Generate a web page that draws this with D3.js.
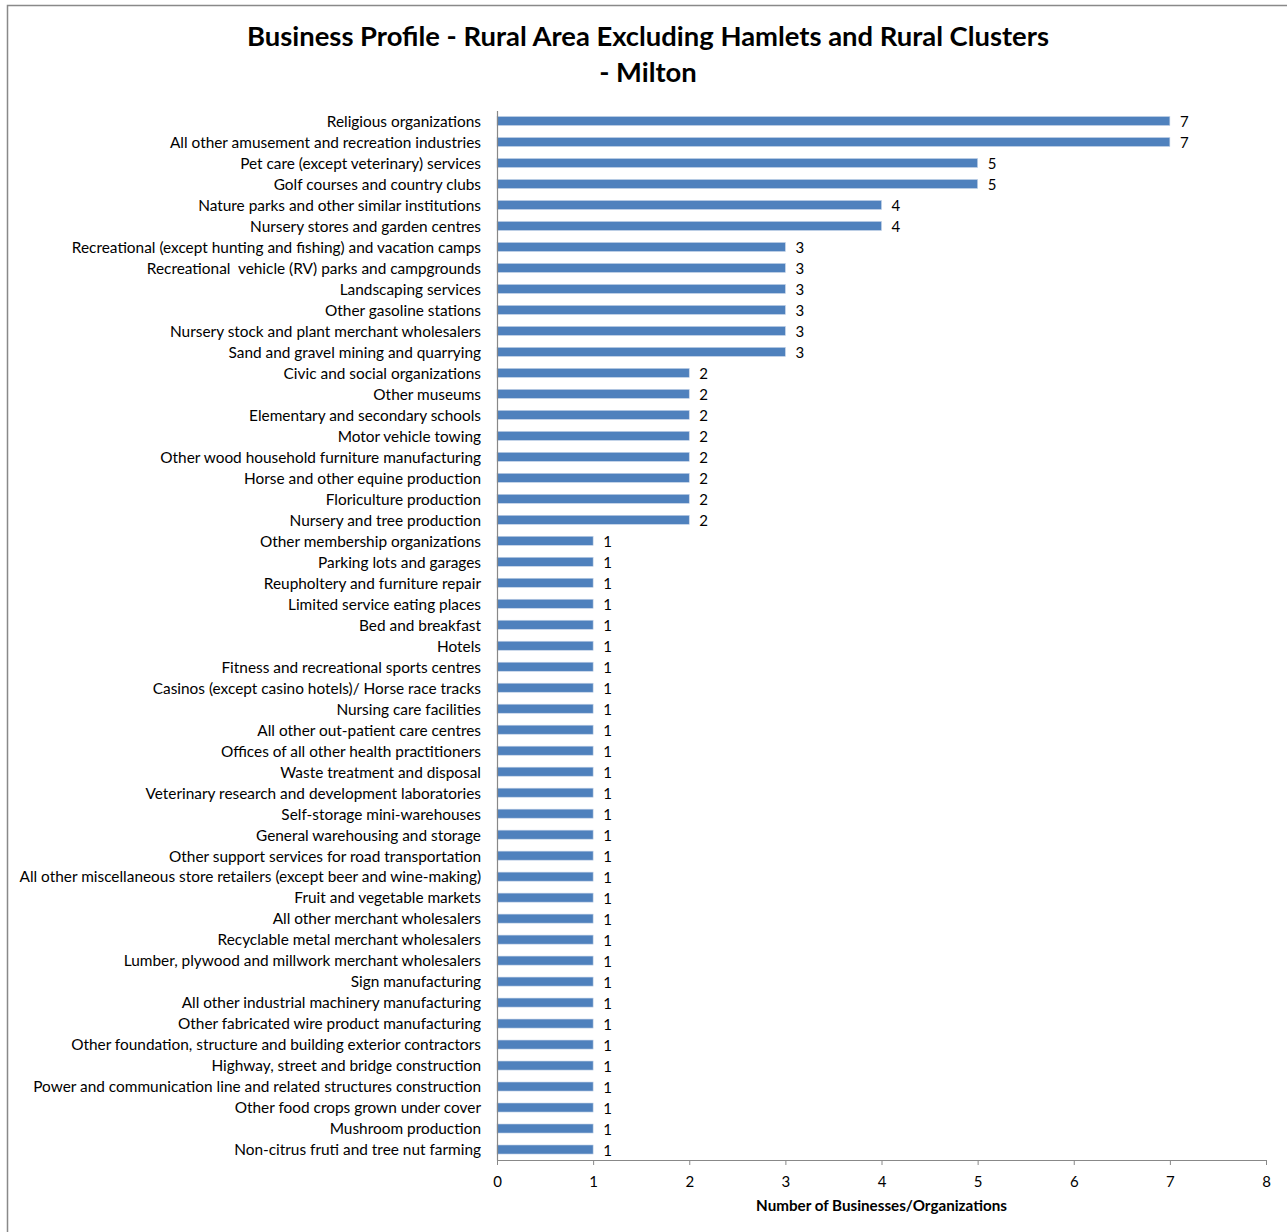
<!DOCTYPE html>
<html>
<head>
<meta charset="utf-8">
<script src="https://cdn.jsdelivr.net/npm/d3@7"></script>
<style>
  html, body { margin: 0; padding: 0; background: #fff; }
  svg { display: block; }
  text { font-family: Lato, "Open Sans", sans-serif; white-space: pre; }
</style>
</head>
<body>
<svg id="chart" width="1287" height="1232"></svg>
<script>
const categories = [
  "Religious organizations",
  "All other amusement and recreation industries",
  "Pet care (except veterinary) services",
  "Golf courses and country clubs",
  "Nature parks and other similar institutions",
  "Nursery stores and garden centres",
  "Recreational (except hunting and fishing) and vacation camps",
  "Recreational  vehicle (RV) parks and campgrounds",
  "Landscaping services",
  "Other gasoline stations",
  "Nursery stock and plant merchant wholesalers",
  "Sand and gravel mining and quarrying",
  "Civic and social organizations",
  "Other museums",
  "Elementary and secondary schools",
  "Motor vehicle towing",
  "Other wood household furniture manufacturing",
  "Horse and other equine production",
  "Floriculture production",
  "Nursery and tree production",
  "Other membership organizations",
  "Parking lots and garages",
  "Reupholtery and furniture repair",
  "Limited service eating places",
  "Bed and breakfast",
  "Hotels",
  "Fitness and recreational sports centres",
  "Casinos (except casino hotels)/ Horse race tracks",
  "Nursing care facilities",
  "All other out-patient care centres",
  "Offices of all other health practitioners",
  "Waste treatment and disposal",
  "Veterinary research and development laboratories",
  "Self-storage mini-warehouses",
  "General warehousing and storage",
  "Other support services for road transportation",
  "All other miscellaneous store retailers (except beer and wine-making)",
  "Fruit and vegetable markets",
  "All other merchant wholesalers",
  "Recyclable metal merchant wholesalers",
  "Lumber, plywood and millwork merchant wholesalers",
  "Sign manufacturing",
  "All other industrial machinery manufacturing",
  "Other fabricated wire product manufacturing",
  "Other foundation, structure and building exterior contractors",
  "Highway, street and bridge construction",
  "Power and communication line and related structures construction",
  "Other food crops grown under cover",
  "Mushroom production",
  "Non-citrus fruti and tree nut farming"
];
const values = [
  7, 7, 5, 5, 4, 4, 3, 3, 3, 3, 3, 3,
  2, 2, 2, 2, 2, 2, 2, 2,
  1, 1, 1, 1, 1, 1, 1, 1, 1, 1, 1, 1, 1, 1, 1, 1, 1, 1, 1, 1, 1, 1, 1, 1, 1, 1, 1, 1, 1, 1
];
const xTicks = [0, 1, 2, 3, 4, 5, 6, 7, 8];
const titleLines = ["Business Profile - Rural Area Excluding Hamlets and Rural Clusters", "- Milton"];
const xAxisTitle = "Number of Businesses/Organizations";

const data = categories.map((c, i) => ({ name: c, value: values[i] }));
const svg = d3.select("#chart");

// outer chart border
svg.append("rect")
  .attr("x", 7.5).attr("y", 5.5)
  .attr("width", 1400).attr("height", 1400)
  .attr("fill", "none").attr("stroke", "#898989").attr("stroke-width", 1.5);

const plotLeft = 497, plotRight = 1266, plotTop = 110.5, plotBottom = 1160;

const x = d3.scaleLinear().domain([0, 8]).range([plotLeft, plotRight]);
const y = d3.scaleBand().domain(categories).range([plotTop, plotBottom]).paddingInner(0.57).paddingOuter(0.285);

// title
svg.append("g").selectAll("text").data(titleLines).join("text")
  .attr("x", 648).attr("y", (d, i) => 46 + i * 36)
  .attr("text-anchor", "middle")
  .attr("font-size", 27.4).attr("font-weight", "bold").attr("fill", "#000")
  .text(d => d);

// bars
svg.append("g").selectAll("rect").data(data).join("rect")
  .attr("x", x(0))
  .attr("y", d => y(d.name))
  .attr("width", d => x(d.value) - x(0))
  .attr("height", y.bandwidth())
  .attr("fill", "#4F81BD")
  .attr("stroke", "#C6D4E8").attr("stroke-width", 0.6);

// value labels
svg.append("g").selectAll("text").data(data).join("text")
  .attr("x", d => x(d.value) + 10)
  .attr("y", d => y(d.name) + y.bandwidth() / 2 + 6)
  .attr("font-size", 15).attr("fill", "#000")
  .text(d => d.value);

// y axis
const yAxis = svg.append("g").attr("transform", `translate(${plotLeft},0)`)
  .call(d3.axisLeft(y).tickSize(0).tickPadding(16));
yAxis.select(".domain").attr("stroke", "#888").attr("stroke-width", 1.2);
yAxis.selectAll("text").attr("font-size", 15.4).attr("fill", "#000")
  .attr("font-family", "Lato, 'Open Sans', sans-serif").attr("dy", "0.38em");

// x axis
const xAxis = svg.append("g").attr("transform", `translate(0,${plotBottom})`)
  .call(d3.axisBottom(x).tickValues(xTicks).tickSize(5).tickPadding(11).tickFormat(d3.format("d")).tickSizeOuter(0));
xAxis.select(".domain").attr("stroke", "#888").attr("stroke-width", 1.2);
xAxis.selectAll(".tick line").attr("stroke", "#888");
xAxis.selectAll("text").attr("font-size", 15).attr("fill", "#000")
  .attr("font-family", "Lato, 'Open Sans', sans-serif");

// x axis title
svg.append("text")
  .attr("x", (plotLeft + plotRight) / 2).attr("y", 1211)
  .attr("text-anchor", "middle")
  .attr("font-size", 15.2).attr("font-weight", "bold").attr("fill", "#000")
  .text(xAxisTitle);
</script>
</body>
</html>
